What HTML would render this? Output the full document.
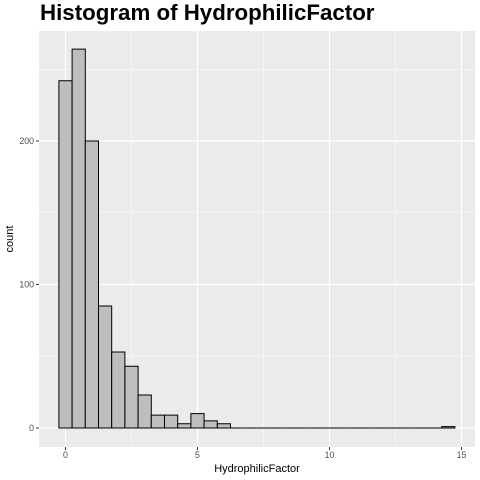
<!DOCTYPE html>
<html><head><style>body{margin:0;background:#fff;position:relative;width:480px;height:480px;overflow:hidden}svg{display:block;font-family:"Liberation Sans",sans-serif}
#title{position:absolute;left:40px;top:-1px;font-family:"Liberation Sans",sans-serif;font-size:22.3px;font-weight:bold;color:#000;line-height:28px;white-space:nowrap}</style></head>
<body>
<svg id="c" width="480" height="480">
<rect width="480" height="480" fill="#fff"/>
<rect x="39" y="31" width="436" height="416" fill="#ebebeb"/>
<g id="grid"></g><g id="bars"></g><g id="axes"></g>
<text x="257" y="472" font-size="11" text-anchor="middle" fill="#000">HydrophilicFactor</text>
<text transform="translate(13,239) rotate(-90)" font-size="11" text-anchor="middle" fill="#000">count</text>
</svg>
<div id="title">Histogram of HydrophilicFactor</div>
<script>
const binStart = -0.25, binWidth = 0.5;
const counts = [242,264,200,85,53,43,23,9,9,3,10,5,3,0,0,0,0,0,0,0,0,0,0,0,0,0,0,0,0,1];
const xTicks = [0,5,10,15];
const yTicks = [0,100,200];
const xMinor = [2.5,7.5,12.5];
const yMinor = [50,150,250];
const NS="http://www.w3.org/2000/svg";
const X = v => 65.5 + v*26.4;
const Y = v => 428 - v*1.435;
function mk(t,a,p){const e=document.createElementNS(NS,t);for(const k in a)e.setAttribute(k,a[k]);p.appendChild(e);return e;}
const g=document.getElementById('grid'), b=document.getElementById('bars'), ax=document.getElementById('axes');
xMinor.forEach(v=>{const l=mk('line',{x1:X(v),x2:X(v),y1:31,y2:447,stroke:'#fff','stroke-width':0.6},g);

});
yMinor.forEach(v=>{const l=mk('line',{x1:39,x2:475,y1:Y(v),y2:Y(v),stroke:'#fff','stroke-width':0.6},g);

});
xTicks.forEach(v=>{const l=mk('line',{x1:X(v),x2:X(v),y1:31,y2:447,stroke:'#fff','stroke-width':1.2},g);


const t=mk('line',{x1:X(v),x2:X(v),y1:447,y2:450,stroke:'#333'},ax);


const tx=mk('text',{x:X(v),y:458,'font-size':8.8,'text-anchor':'middle',fill:'#4d4d4d'},ax);tx.textContent=v;

});
yTicks.forEach(v=>{const l=mk('line',{x1:39,x2:475,y1:Y(v),y2:Y(v),stroke:'#fff','stroke-width':1.2},g);


const t=mk('line',{x1:36,x2:39,y1:Y(v),y2:Y(v),stroke:'#333'},ax);


const tx=mk('text',{x:34,y:Y(v)+3,'font-size':8.8,'text-anchor':'end',fill:'#4d4d4d'},ax);tx.textContent=v;

});
counts.forEach((c,i)=>{const x0=X(binStart+i*binWidth),x1=X(binStart+(i+1)*binWidth),y0=Y(0),y1=Y(c);
const r=mk('path',{d:`M${x0},${y0}L${x0},${y1}L${x1},${y1}L${x1},${y0}Z`,fill:'#bebebe',stroke:'#000','stroke-width':1},b);

});
</script>
</body></html>
